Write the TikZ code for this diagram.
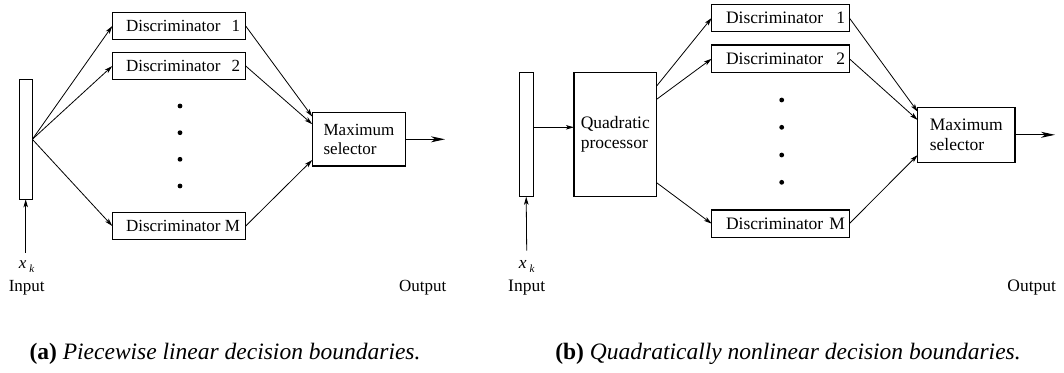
\documentclass[tikz,border=0pt]{standalone}
\usepackage{fontspec}
\setmainfont{Liberation Serif}
\usetikzlibrary{arrows.meta,calc}
\newcommand\figfontA{\fontsize{17}{19.5}\selectfont}
\newcommand\figfontB{\fontsize{17.5}{20}\selectfont}
\newcommand\capfont{\fontsize{23.5}{26}\selectfont}
\begin{document}
\begin{tikzpicture}[x=1pt,y=-1pt,
  box/.style={draw,line width=1.1pt,inner sep=0pt,outer sep=0pt},
  discA/.style={box,minimum width=133.4pt,minimum height=26.6pt,text width=122pt,align=left,font=\figfontA},
  discB/.style={box,minimum width=137.6pt,minimum height=27.5pt,text width=129pt,align=left,font=\figfontB},
  procbox/.style={box,align=left},
  conn/.style={line width=0.8pt,-{Stealth[length=8pt,width=4.5pt,inset=2pt]}},
  outarr/.style={line width=1pt,-{Stealth[length=14pt,width=6pt,inset=4pt]}},
  dotn/.style={circle,fill=black,inner sep=0pt,minimum size=4.8pt},
  lab/.style={inner sep=0pt}
]
\useasboundingbox (0,0) rectangle (1064,372);

%% ---------- (a) ----------
\node[box,minimum width=13.3pt,minimum height=120pt] (barA) at (25.7,139.3) {};
\node[discA] (dA1) at (179,26) {\hspace*{8pt}Discriminator\hfill 1};
\node[discA] (dA2) at (179,66) {\hspace*{8pt}Discriminator\hfill 2};
\node[discA] (dAM) at (179,226) {\hspace*{8pt}Discriminator\hfill M};
\node[dotn] (pA1) at (180,106) {};
\node[dotn] (pA2) at (180,132.7) {};
\node[dotn] (pA3) at (180,159.3) {};
\node[dotn] (pA4) at (180,186) {};
\node[procbox,minimum width=93.4pt,minimum height=53.3pt,font=\figfontA] (maxA) at (359,139.3) {Maximum\\selector};
\coordinate (outA) at (445,139.3);
\coordinate (inA) at (25.7,252.7);
\node[lab,font=\figfontA] (xkA) at (26.7,266.7) {\textit{x}\,\raisebox{-0.45ex}{\fontsize{11}{11}\selectfont\textit{k}}};
\node[lab,font=\figfontA] (inlabA) at (26.7,287.3) {Input};
\node[lab,font=\figfontA] (outlabA) at (422.7,287.3) {Output};

\draw[conn] (inA) -- (barA.south);
\draw[conn] (barA.east) -- (dA1.west);
\draw[conn] (barA.east) -- (dA2.west);
\draw[conn] (barA.east) -- (dAM.west);
\draw[conn] (dA1.east) -- ($(maxA.north west)+(0,4)$);
\draw[conn] (dA2.east) -- ($(maxA.north west)+(0,11.6)$);
\draw[conn] (dAM.east) -- ($(maxA.south west)+(0,-6)$);
\draw[outarr] (maxA.east) -- (outA);

%% ---------- (b) ----------
\node[box,minimum width=13.7pt,minimum height=124pt] (barB) at (526.2,134.7) {};
\node[procbox,minimum width=82.7pt,minimum height=124pt,font=\figfontB] (qp) at (615.3,134.7) {Quadratic\\processor};
\node[discB] (dB1) at (780.5,17.9) {\hspace*{10pt}Discriminator\hfill 1};
\node[discB] (dB2) at (780.5,58.7) {\hspace*{10pt}Discriminator\hfill 2};
\node[discB] (dBM) at (780.5,223.7) {\hspace*{10pt}Discriminator\hfill M};
\node[dotn] (pB1) at (781.7,100) {};
\node[dotn] (pB2) at (781.7,127.3) {};
\node[dotn] (pB3) at (781.7,155) {};
\node[dotn] (pB4) at (781.7,182.3) {};
\node[procbox,minimum width=97.3pt,minimum height=55pt,font=\figfontB] (maxB) at (966.3,134.8) {Maximum\\selector};
\coordinate (outB) at (1055,134.8);
\coordinate (inB) at (526.7,250.7);
\coordinate (bqB) at ($(barB.east)+(0,-7.4)$);
\node[lab,font=\figfontB] (xkB) at (526.7,266.7) {\textit{x}\,\raisebox{-0.45ex}{\fontsize{11}{11}\selectfont\textit{k}}};
\node[lab,font=\figfontB] (inlabB) at (526.7,287.3) {Input};
\node[lab,font=\figfontB] (outlabB) at (1031.7,287.3) {Output};

\draw[conn] (inB) -- (barB.south);
\draw[conn] (bqB) -- (bqB -| qp.west);
\draw[conn] ($(qp.north east)+(0,13.3)$) -- (dB1.west);
\draw[conn] ($(qp.north east)+(0,26.6)$) -- (dB2.west);
\draw[conn] ($(qp.north east)+(0,110)$) -- (dBM.west);
\draw[conn] (dB1.east) -- ($(maxB.north west)+(0,4.4)$);
\draw[conn] (dB2.east) -- ($(maxB.north west)+(0,12.7)$);
\draw[conn] (dBM.east) -- ($(maxB.south west)+(0,-7.3)$);
\draw[outarr] (maxB.east) -- (outB);

%% ---------- captions ----------
\node[lab,font=\capfont,anchor=base] (capA) at (225,359) {\textbf{(a)} \textit{Piecewise linear decision boundaries.}};
\node[lab,font=\capfont,anchor=base] (capB) at (788,359) {\textbf{(b)} \textit{Quadratically nonlinear decision boundaries.}};
\end{tikzpicture}
\end{document}
